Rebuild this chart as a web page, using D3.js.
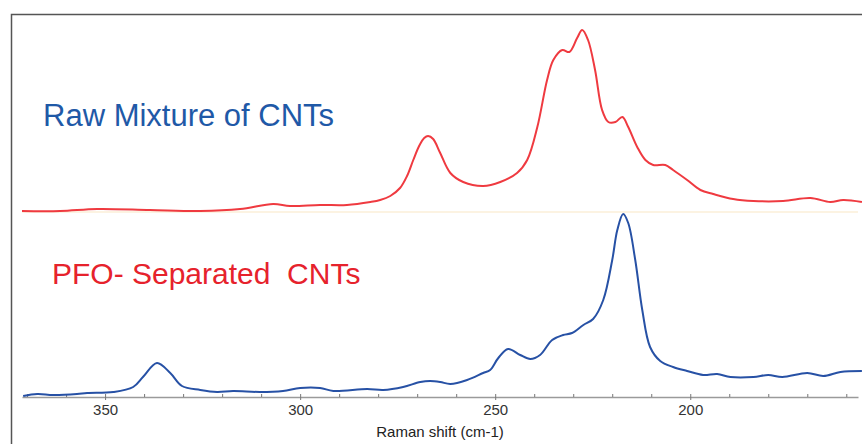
<!DOCTYPE html>
<html>
<head>
<meta charset="utf-8">
<script src="https://cdn.jsdelivr.net/npm/d3@7"></script>
<style>
  html, body { margin: 0; padding: 0; background: #fff; }
  svg { display: block; font-family: "Liberation Sans", Arial, sans-serif; }
</style>
</head>
<body>
<svg id="chart" width="862" height="444"></svg>
<script>
// Raman shift (cm-1) and intensity (a.u., offset stack)
const rawShift = [371.3, 361.5, 352, 338.5, 325.6, 315.4, 306.9, 302.6, 294.9, 288, 282, 279.5,
  276.9, 274.4, 272.6, 271, 269.5, 268.2, 267.2, 265.9, 264.1, 261.5, 258.2, 253.1, 248.7,
  244.4, 241.8, 239.2, 236.7, 235.1, 232.8, 231, 229, 227.7, 226.2, 224.4, 222.6, 221, 219.2,
  217.4, 215.9, 213.6, 211.5, 209.5, 206.4, 204.4, 200.8, 197.4, 194.1, 189, 183.8, 176.2,
  169.2, 164.1, 160.8, 156];
const rawIntensity = [186, 186, 188, 187, 186, 188, 193, 191, 192, 192, 195, 197,
  201, 209, 221, 237, 251, 259, 261, 258, 244, 224, 215, 211, 215,
  224, 237, 270, 317, 337, 347, 345, 359, 367, 357, 327, 287, 275, 275,
  280, 270, 250, 237, 232, 232, 227, 217, 207, 203, 198, 196, 196,
  199, 195, 197, 195];

const pfoShift = [371, 367.4, 363.3, 357.2, 354.6, 347.9, 342.8, 340.3, 336.7, 333.3, 330.3,
  325.6, 321.3, 317.2, 310.3, 304.4, 300, 294.9, 291.5, 282.8, 278.7, 273.6, 269.2, 266.7,
  264.1, 261.5, 257.2, 253.1, 251.3, 249.2, 246.7, 243.6, 241, 238.5, 235.4, 232.6, 230.3,
  227.4, 224.9, 222.3, 220, 218.7, 217.2, 215.9, 214.1, 212.3, 210.3, 207.7, 204.4, 200.8,
  196.7, 193.1, 189.7, 183.8, 180, 176.4, 170, 165.9, 161.5, 156];
const pfoIntensity = [1, 3, 2, 3, 4, 5, 10, 20, 34, 24, 11,
  7, 5, 6, 5, 6, 9, 9, 6, 8, 7, 10, 15, 16,
  15, 13, 17, 24, 27, 39, 48, 42, 38, 42, 57, 62, 64,
  72, 78, 97, 137, 167, 183, 174, 137, 87, 50, 36, 30, 26,
  22, 23, 20, 20, 22, 20, 24, 21, 25, 26];

const majorTicks = [350, 300, 250, 200];
const minorTicks = d3.range(160, 371, 10);
const labelTexts = ["Raw Mixture of CNTs", "PFO- Separated  CNTs"];

const svg = d3.select("#chart");

const x = d3.scaleLinear().domain([371.3, 157]).range([22, 858]);
const y = d3.scaleLinear().domain([0, 383]).range([397, 14]);

// frame (top and left edges)
svg.append("path")
  .attr("d", "M11.5,444V14.5H862")
  .attr("fill", "none")
  .attr("stroke", "#555")
  .attr("stroke-width", 1.5);

// faint separator between the stacked spectra
svg.append("line")
  .attr("x1", 22).attr("x2", 858)
  .attr("y1", y(185)).attr("y2", y(185))
  .attr("stroke", "#fbefd9")
  .attr("stroke-width", 1.5);

// axis
const gMinor = svg.append("g")
  .attr("transform", "translate(0,397)")
  .call(d3.axisBottom(x).tickValues(minorTicks).tickSize(-3).tickSizeOuter(0).tickFormat(""));
gMinor.select(".domain").attr("stroke", "#9a9a9a").attr("stroke-width", 1.5);
gMinor.selectAll(".tick line").attr("stroke", "#777");

const gMajor = svg.append("g")
  .attr("transform", "translate(0,397)")
  .call(d3.axisBottom(x).tickValues(majorTicks).tickSize(3).tickSizeOuter(0).tickPadding(4));
gMajor.select(".domain").remove();
gMajor.selectAll(".tick line").attr("stroke", "#777");
gMajor.selectAll(".tick text")
  .attr("fill", "#333")
  .attr("font-size", 15)
  .attr("font-family", "'Liberation Sans', Arial, sans-serif");

svg.append("text")
  .attr("x", 440).attr("y", 437)
  .attr("text-anchor", "middle")
  .attr("font-size", 15)
  .attr("fill", "#222")
  .text("Raman shift (cm-1)");

// spectra
const line = d3.line()
  .x(d => x(d[0]))
  .y(d => y(d[1]))
  .curve(d3.curveCatmullRom.alpha(0.5));

svg.append("path")
  .datum(rawShift.map((s, i) => [s, rawIntensity[i]]))
  .attr("d", line)
  .attr("fill", "none")
  .attr("stroke", "#ef3a40")
  .attr("stroke-width", 2);

svg.append("path")
  .datum(pfoShift.map((s, i) => [s, pfoIntensity[i]]))
  .attr("d", line)
  .attr("fill", "none")
  .attr("stroke", "#2751a5")
  .attr("stroke-width", 2);

// annotations
svg.append("text")
  .attr("x", 43).attr("y", 126)
  .attr("fill", "#1f59a7")
  .attr("font-size", 31)
  .text(labelTexts[0]);

svg.append("text")
  .attr("x", 52).attr("y", 284)
  .attr("fill", "#e6222c")
  .attr("font-size", 30)
  .style("white-space", "pre")
  .text(labelTexts[1]);
</script>
</body>
</html>
